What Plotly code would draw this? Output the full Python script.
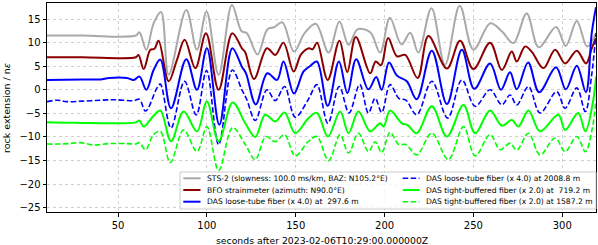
import plotly.graph_objects as go

# ---------------- data ----------------
t_sts = [10, 30, 60, 62, 65.9, 70, 74.2, 78.5, 88.4, 94.4, 99.8, 106.6, 114.1, 119.5,
         122.5, 128.5, 134, 138, 142.5, 149, 155, 161.3, 168.5, 174.6, 179.7, 184.8,
         191.9, 197.5, 203, 209.5, 214.4, 219, 226.4, 234, 242.3, 250, 259.5, 266,
         272.5, 280, 286.8, 296.5, 302, 308.2, 314, 319]
v_sts = [11.5, 11.5, 11.5, 12.2, 8.5, 14.1, 16.5, 3.2, 16.9, 8.5, 16.6, 3.2, 18.0, 12.4,
         12.0, 7.5, 12.8, 13.3, 14.3, 8.1, 12.0, 14.0, 7.9, 14.5, 9.5, 12.8,
         12.2, 7.9, 15.3, 9.6, 12.1, 7.9, 17.3, 5.3, 17.8, 8.5, 14.1, 12.4,
         9.9, 16.2, 9.0, 13.3, 9.3, 14.6, 9.2, 12.0]

t_bfo = [10, 30, 60, 61.5, 64.4, 68.2, 70.5, 72.8, 78.5, 83.2, 87.5, 93.5, 99.5, 106.6,
         114.3, 119.7, 121.5, 126.5, 133.8, 138.5, 143.1, 148.8, 153, 157.5, 159.5, 162,
         168, 174.6, 179, 183.8, 191.9, 195, 198, 202, 207, 211.6, 218.6, 224.7, 235.1,
         242.5, 250, 259.4, 266, 271.6, 274.4, 279.1, 283, 289.4, 296, 301.6, 308.2,
         313.4, 316.6, 319]
v_bfo = [6.9, 6.9, 6.9, 7.4, 4.4, 8.5, 8.7, 10.4, 1.8, 6.4, 10.6, 4.6, 12.0, 0.0,
         12.0, 8.8, 8.0, 2.3, 8.8, 7.4, 10.0, 3.9, 7.5, 8.8, 8.6, 10.0,
         2.1, 10.4, 3.8, 11.2, 3.5, 6.0, 5.2, 11.0, 7.1, 7.4, 2.5, 11.4, 4.5,
         10.4, 4.4, 10.0, 4.2, 8.1, 6.0, 9.2, 8.0, 4.6, 8.5, 5.6, 8.3,
         5.6, 8.8, 11.0]

t_das1 = [10, 30, 40, 45, 55, 58.8, 62.1, 65.9, 70, 73.8, 79.8, 88.4, 94.4, 100, 107,
          114.3, 119.7, 122, 127.5, 134, 139.5, 143.1, 149, 154.4, 158, 161.9, 168,
          174.3, 179.1, 184, 190.9, 195.3, 198.4, 202.5, 207, 212.5, 218.1, 226.6,
          235.1, 243.5, 250.5, 259.4, 265.5, 270.6, 274.4, 280.8, 287, 296.5, 302,
          308.2, 313.3, 316.6, 319]
v_das1 = [2.1, 2.2, 2.2, 2.5, 2.5, 2.1, 2.8, 0.0, 4.2, 6.4, -3.9, 6.5, 0.0, 8.8, -7.4,
          8.8, 4.9, 3.5, -3.1, 3.5, 2.1, 6.0, -0.8, 3.9, 5.0, 6.0, -3.4,
          6.0, -0.7, 6.5, 0.1, 2.7, 0.0, 5.8, 3.0, 1.8, -2.0, 8.3,
          -3.0, 8.5, 0.2, 5.6, 0.0, 3.7, 0.1, 5.8, -0.5, 4.8, 0.1,
          5.1, -0.5, 12.0, 17.5]

t_das2 = [10, 16, 21, 30, 40, 48.5, 58.8, 62, 65.5, 71.9, 73.8, 79.8, 87.4, 94, 99.8,
          106.6, 114.3, 119.7, 122.5, 127.2, 133.8, 138.5, 143.7, 149.7, 157, 161.9,
          168.1, 174.5, 180, 186, 190.9, 194.7, 198.4, 203.1, 208, 212, 218.1, 226.6,
          235.5, 243.5, 251, 259.4, 266, 270.6, 274.4, 281, 287.5, 296.9, 301.6,
          308.2, 313, 316.5, 319]
v_das2 = [-2.5, -2.2, -2.5, -2.4, -2.2, -2.1, -2.3, -2.0, -4.5, 0.4, 1.2, -8.1, 1.8, -5.3, 4.1,
          -11.6, 4.2, 0.0, -2.1, -6.5, 0.0, -2.3, 0.7, -5.8, -2.1, 1.1,
          -7.1, 0.7, -4.9, 1.1, -4.9, -1.8, -4.8, 1.1, -1.8, -2.2, -5.3, 1.8,
          -6.0, 2.1, -3.5, 0.0, -3.2, -1.1, -3.2, 0.7, -4.9, -0.4, -3.9,
          0.4, -4.6, 3.0, 12.0]

t_das3 = [10, 25, 60, 62, 64.4, 70, 73.8, 79.8, 86.9, 94.4, 100, 106.6, 114.5, 121.6,
          127.2, 132.8, 138.5, 143.7, 149.7, 157.2, 161.9, 168.1, 175, 179.7, 185.3,
          191.9, 197.5, 199.5, 203.1, 209.7, 213, 218.1, 226.6, 235.1, 244.4, 251,
          259.4, 266, 271.6, 275.3, 281, 287.5, 297.8, 301.6, 309, 313, 317.5, 319]
v_das3 = [-6.9, -7.0, -6.9, -6.5, -7.8, -5.5, -4.4, -10.9, -4.6, -8.8, -2.5, -10.9, -2.7, -7.1,
          -10.0, -5.3, -6.7, -4.8, -9.2, -6.0, -4.9, -9.9, -4.6, -9.2, -4.6,
          -8.8, -7.1, -7.8, -4.4, -7.1, -7.5, -9.2, -3.5, -9.9, -3.2, -9.2,
          -4.4, -7.6, -6.4, -7.8, -4.4, -8.8, -5.3, -8.5, -4.9, -8.8, -2.1, 2.8]

t_das4 = [10, 16, 22, 28.8, 36.3, 45, 55, 60, 62, 65.4, 70, 73.8, 79.4, 86.9, 94.4, 100,
          106.6, 114.5, 121.6, 127.2, 133.2, 138.5, 143.7, 149.7, 157, 161.9, 168.5,
          175, 179.7, 185.3, 190.9, 194.7, 198.4, 203.1, 208, 212, 218.1, 226.6,
          235.9, 244.4, 251, 259.4, 265, 270.6, 274.4, 281, 287.5, 296, 301.6, 308.2,
          313, 317, 319]
v_das4 = [-11.5, -11.5, -11.4, -11.2, -11.7, -11.4, -11.4, -11.5, -11.2, -12.7, -9.5, -8.8, -15.4, -8.5, -13.1, -7.8,
          -17.1, -8.0, -11.6, -14.8, -9.9, -11.0, -9.5, -14.0, -11.0, -9.9, -15.0,
          -9.5, -13.4, -9.2, -13.1, -11.0, -13.3, -9.0, -11.6, -11.6, -13.8, -9.2,
          -14.8, -7.8, -14.0, -9.5, -12.7, -11.3, -12.8, -9.2, -13.8, -10.2, -13.1, -9.9,
          -13.1, -8.0, -2.1]

x_ticks = [50, 100, 150, 200, 250, 300]
y_ticks = [-25, -20, -15, -10, -5, 0, 5, 10, 15]

NB = "\u00a0"
names = [
    "STS-2 (slowness: 100.0 ms/km, BAZ: N105.2°E)",
    "BFO strainmeter (azimuth: N90.0°E)",
    "DAS loose-tube fiber (x 4.0) at " + NB + "297.6 m",
    "DAS loose-tube fiber (x 4.0) at 2008.8 m",
    "DAS tight-buffered fiber (x 2.0) at " + NB + "719.2 m",
    "DAS tight-buffered fiber (x 2.0) at 1587.2 m",
]
colors = ["#a9a9a9", "#8b0000", "#0000ff", "#0000ff", "#00ff00", "#00ff00"]
DASH = "5.5px,2.5px"
dashes = ["solid", "solid", "solid", DASH, "solid", DASH]
widths = [2.0, 2.0, 2.0, 1.6, 2.0, 1.6]
xs = [t_sts, t_bfo, t_das1, t_das2, t_das3, t_das4]
ys = [v_sts, v_bfo, v_das1, v_das2, v_das3, v_das4]

# ---------------- geometry (pixels of the 598x245 figure) ----------------
W, H = 598, 245
ML, MR, MT, MB = 47, 2, 3, 33
PW, PH = W - ML - MR, H - MT - MB


def px(x):
    return (x - ML) / PW


def py(y):
    return (H - MB - y) / PH


fig = go.Figure()
for x, y, name, c, d, w in zip(xs, ys, names, colors, dashes, widths):
    fig.add_trace(go.Scatter(
        x=x, y=y, mode="lines", name=name, showlegend=False, hoverinfo="skip",
        line=dict(color=c, dash=d, width=w, shape="spline", smoothing=1.0),
    ))

font_family = "DejaVu Sans"

# manual legend (matplotlib style, 2 columns, lower right)
shapes = [dict(type="rect", xref="paper", yref="paper", layer="above",
               x0=px(180), x1=px(596), y0=py(209), y1=py(172),
               fillcolor="rgba(255,255,255,0.8)", line=dict(color="#cccccc", width=1))]
annotations = []
rows_y = [178.3, 190.0, 201.7]
cols = [(183.3, 200.5, 205.0), (402.7, 419.5, 424.3)]
for i in range(6):
    col, row = divmod(i, 3)
    lx0, lx1, tx = cols[col]
    yy = rows_y[row]
    shapes.append(dict(type="line", xref="paper", yref="paper", layer="above",
                       x0=px(lx0), x1=px(lx1), y0=py(yy), y1=py(yy),
                       line=dict(color=colors[i], width=widths[i], dash=dashes[i])))
    annotations.append(dict(xref="paper", yref="paper", x=px(tx), y=py(yy),
                            xanchor="left", yanchor="middle", showarrow=False,
                            text=names[i], font=dict(size=7.6, family=font_family, color="black")))

annotations.append(dict(xref="paper", yref="paper", x=0.5, y=py(240.3),
                        xanchor="center", yanchor="middle", showarrow=False,
                        text="seconds after 2023-02-06T10:29:00.000000Z",
                        font=dict(size=9.3, family=font_family, color="black")))
annotations.append(dict(xref="paper", yref="paper", x=px(6), y=py(108),
                        xanchor="center", yanchor="middle", showarrow=False, textangle=-90,
                        text="rock extension / n<i>ε</i>",
                        font=dict(size=9.5, family=font_family, color="black")))

fig.update_layout(
    width=W, height=H,
    margin=dict(l=ML, r=MR, t=MT, b=MB, autoexpand=False),
    plot_bgcolor="white", paper_bgcolor="white",
    font=dict(family=font_family, size=10, color="black"),
    showlegend=False, hovermode=False,
    shapes=shapes, annotations=annotations,
    xaxis=dict(
        range=[10, 319], tickvals=x_ticks, ticks="outside", ticklen=3.5, tickcolor="black",
        showline=True, linecolor="black", linewidth=1, mirror=True,
        showgrid=True, gridcolor="#d0d0d0", griddash="dot", gridwidth=0.8,
        zeroline=False, automargin=False, tickfont=dict(size=10),
    ),
    yaxis=dict(
        range=[-25.9, 18.4], tickvals=y_ticks, ticks="outside", ticklen=3.5, tickcolor="black",
        showline=True, linecolor="black", linewidth=1, mirror=True,
        showgrid=True, gridcolor="#d0d0d0", griddash="dot", gridwidth=0.8,
        zeroline=False, automargin=False, tickfont=dict(size=10),
    ),
)

fig.write_html(
    "out.html",
    config={"displayModeBar": False},
    post_script="document.body.style.margin='0';document.body.style.padding='0';"
                "document.body.style.overflow='hidden';",
)
